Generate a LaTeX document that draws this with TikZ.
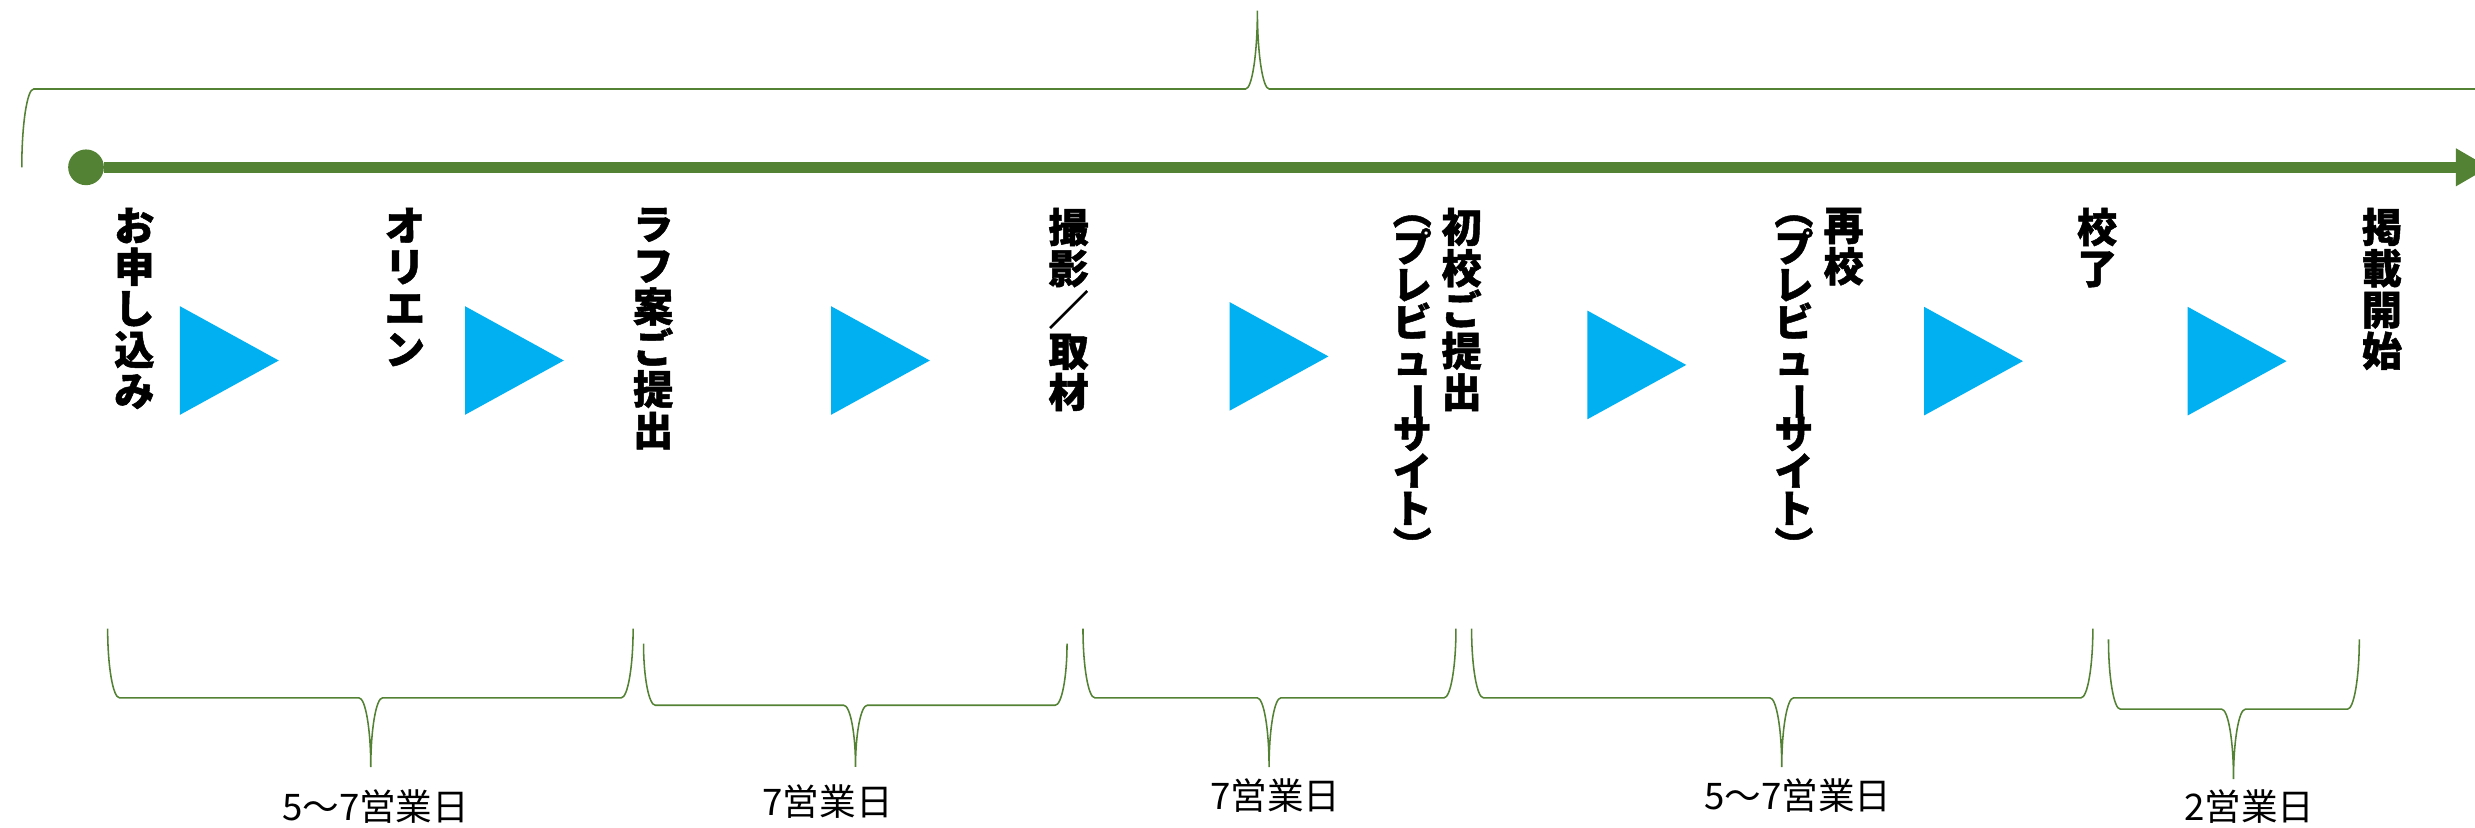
\documentclass[tikz,border=0pt]{standalone}
\usepackage{fontspec}
\newfontfamily\jpfont[BoldFeatures={FakeBold=1.2}]{Noto Sans CJK JP}
\usetikzlibrary{arrows.meta}
\definecolor{leaf}{HTML}{548235}
\definecolor{sky}{HTML}{00B0F0}
\newcommand\vbar{\rotatebox[origin=c]{-90}{ー}}
\newcommand\stagefont{\jpfont\bfseries\fontsize{18.1pt}{18.6pt}\selectfont\lineskiplimit-100pt\relax}
\newcommand\notefont{\jpfont\bfseries\fontsize{17.5pt}{16.8pt}\selectfont\lineskiplimit-100pt\relax}

\begin{document}
\begin{tikzpicture}[x=0.025cm, y=-0.025cm,
  every stage/.style={anchor=north, inner sep=0pt, align=center, font=\stagefont},
  stage note/.style={every stage, font=\notefont},
  every span/.style={inner sep=0pt, font=\jpfont\fontsize{16.5pt}{18pt}\selectfont},
  dot/.style={circle, fill=leaf, inner sep=0pt, minimum size=16.1pt},
  timeline/.style={draw=leaf, line width=5pt, -{Triangle[length=15pt, width=16pt]}},
  brace/.style={draw=leaf, line width=0.7pt},
  play/.style={fill=sky}]

\path[use as bounding box, clip] (0,0) rectangle (1568,524);

\node[dot] (start) at (54.5,106) {};
\coordinate (finish) at (1577,106);
\draw[timeline] (start) -- (finish);

% braces: left, tip, right, top, half height
\foreach \xa/\xm/\xb/\yt/\hh in {13.8/796.6/1579.4/106/-49.6, 68.2/234.9/401.1/398.2/43.9,
    407.7/542/676/407.7/39.1, 686.1/804/922.4/398.2/43.9,
    932.3/1128.8/1325.9/398.2/43.9, 1335.8/1415/1494.7/405/44.3}
  \draw[brace] (\xa,\yt) .. controls +(0,0.55*\hh) and +(-4.1,0) .. (\xa+7.5,\yt+\hh)
    -- (\xm-7.5,\yt+\hh) .. controls +(4.1,0) and +(0,-0.55*\hh) .. (\xm,\yt+2*\hh)
    .. controls +(0,-0.55*\hh) and +(-4.1,0) .. (\xm+7.5,\yt+\hh)
    -- (\xb-7.5,\yt+\hh) .. controls +(4.1,0) and +(0,0.55*\hh) .. (\xb,\yt);

\foreach \x/\y in {114/194, 294.6/194, 526.5/194, 779/191.4,
    1005.7/196.8, 1219/194.4, 1386/194.4}
  \fill[play] (\x,\y) -- ++(62.6,34.4) -- ++(-62.6,34.4) -- cycle;

\node[every stage] (apply) at (85.1,131.4) {お\\申\\し\\込\\み};
\node[every stage] (orient) at (256.5,131.4) {オ\\リ\\エ\\ン};
\node[every stage] (rough) at (413.8,131.4) {ラ\\フ\\案\\ご\\提\\出};
\node[every stage] (shoot) at (677,131.4) {撮\\影\\／\\取\\材};
\node[every stage] (proof1) at (926,131.4) {初\\校\\ご\\提\\出};
\node[stage note] (proof1site) at (894.7,136.2) {︵\\プ\\レ\\ビ\\ュ\\\vbar\\サ\\イ\\ト\\︶};
\node[every stage] (proof2) at (1168,131.4) {再\\校};
\node[stage note] (proof2site) at (1136.5,136.2) {︵\\プ\\レ\\ビ\\ュ\\\vbar\\サ\\イ\\ト\\︶};
\node[every stage] (final) at (1328.6,131.4) {校\\了};
\node[every stage] (publish) at (1509,131.4) {掲\\載\\開\\始};

\node[every span] (span1) at (238,510.7) {5～7営業日};
\node[every span] (span2) at (524.4,508) {7営業日};
\node[every span] (span3) at (808,504) {7営業日};
\node[every span] (span4) at (1139,504) {5～7営業日};
\node[every span] (span5) at (1425,511) {2営業日};

\end{tikzpicture}
\end{document}
